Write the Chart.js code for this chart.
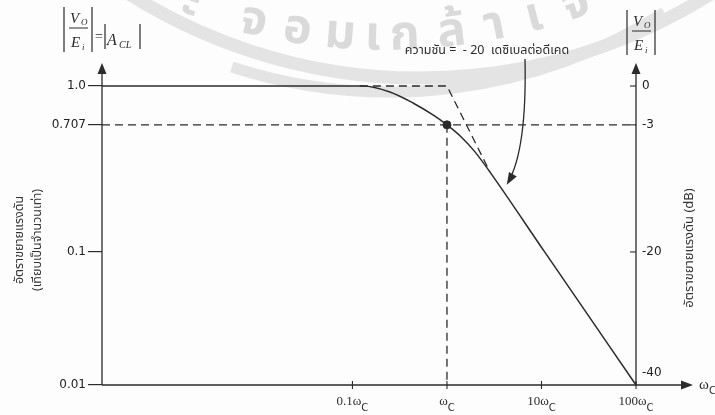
<!DOCTYPE html>
<html>
<head>
<meta charset="utf-8">
<script src="https://cdn.jsdelivr.net/npm/chart.js@4.4.1/dist/chart.umd.min.js"></script>
<style>
  html, body { margin: 0; padding: 0; background: #fdfdfd; }
  #wrap { width: 715px; height: 415px; position: relative; }
</style>
</head>
<body>
<div id="wrap"><canvas id="bode"></canvas></div>
<script>
// ------ values ------
var freqTicks  = [0.1, 1, 10, 100];              // multiples of wc
var freqLabels = ['0.1ω', 'ω', '10ω', '100ω'];   // subscript C added when drawn
var dbTicks    = [0, -3, -20, -40];
var dbLabels   = ['0', '-3', '-20', ['-40', '']];
var gainLabels = ['1.0', '0.707', '0.1', '0.01'];

var freqMin = 0.000224;   // left edge of the frequency axis
var freqMax = 100;

// closed-loop response (w/wc, dB)
var respFreq = [0.000224, 0.129, 0.249, 0.437, 0.711, 1, 1.407, 1.979, 2.781, 10.8, 100];
var respDb   = [0, 0, -0.46, -1.31, -2.23, -3, -4.58, -6.61, -9.12, -20, -40];

// straight-line approximation (dashed)
var asymFreq = [0.12, 1, 2.85];
var asymDb   = [0, 0, -9.3];

// -3 dB corner
var cornerFreq = 1;
var cornerDb = -3;

var slopeNote = 'ความชัน =  - 20  เดซิเบลต่อดีเคด';
var leftTitle = ['อัตราขยายแรงดัน', '(เทียบเป็นจำนวนเท่า)'];
var rightTitle = 'อัตราขยายแรงดัน (dB)';

// the drawing does not space the dB ticks evenly, so the axis is piecewise
var dbAxisLayout = [[-40, 0], [-20, 0.445], [-3, 0.870], [0, 1]];

class AnchoredScale extends Chart.LinearScale {
    getPixelForValue(value) {
        if (value === null || isNaN(value)) return NaN;
        var a = dbAxisLayout;
        var i = 0;
        while (i < a.length - 2 && value > a[i + 1][0]) i++;
        var t = (value - a[i][0]) / (a[i + 1][0] - a[i][0]);
        return this.getPixelForDecimal(a[i][1] + t * (a[i + 1][1] - a[i][1]));
    }
    getValueForPixel(pixel) {
        var d = this.getDecimalForPixel(pixel);
        var a = dbAxisLayout;
        var i = 0;
        while (i < a.length - 2 && d > a[i + 1][1]) i++;
        var t = (d - a[i][1]) / (a[i + 1][1] - a[i][1]);
        return a[i][0] + t * (a[i + 1][0] - a[i][0]);
    }
}
AnchoredScale.id = 'anchored';
AnchoredScale.defaults = {};
Chart.register(AnchoredScale);

function pts(xs, ys) {
    return xs.map(function(x, i) { return { x: x, y: ys[i] }; });
}

var INK = '#2b2b2b';
var SANS = '"DejaVu Sans", Verdana, sans-serif';
var THAI = '"Noto Sans Thai", "Noto Sans", "DejaVu Sans", sans-serif';
var SERIF = '"Liberation Serif", "Times New Roman", serif';

function arrowHead(ctx, x, y, dx, dy, len, half) {
    var n = Math.sqrt(dx * dx + dy * dy);
    dx /= n; dy /= n;
    ctx.beginPath();
    ctx.moveTo(x, y);
    ctx.lineTo(x - dx * len - dy * half, y - dy * len + dx * half);
    ctx.lineTo(x - dx * len + dy * half, y - dy * len - dx * half);
    ctx.closePath();
    ctx.fill();
}

function absFraction(ctx, x, top) {
    ctx.lineWidth = 1.2;
    ctx.beginPath();
    ctx.moveTo(x, top); ctx.lineTo(x, top + 45);
    ctx.moveTo(x + 28, top); ctx.lineTo(x + 28, top + 45);
    ctx.moveTo(x + 5, top + 21); ctx.lineTo(x + 24, top + 21);
    ctx.stroke();
    ctx.textAlign = 'left';
    ctx.textBaseline = 'alphabetic';
    ctx.font = 'italic 15px ' + SERIF;
    ctx.fillText('V', x + 6, top + 16);
    ctx.fillText('E', x + 7, top + 40);
    ctx.font = 'italic 9px ' + SERIF;
    ctx.fillText('O', x + 17, top + 18);
    ctx.fillText('i', x + 18, top + 43);
}

var decorPlugin = {
    id: 'decor',
    beforeDraw: function(chart) {
        var ctx = chart.ctx;
        ctx.save();
        ctx.fillStyle = '#fdfdfd';
        ctx.fillRect(0, 0, chart.width, chart.height);

        // faint scanned watermark
        ctx.strokeStyle = '#e4e4e4';
        ctx.lineWidth = 13;
        ctx.beginPath();
        ctx.arc(420, -467, 545, Math.PI * 0.22, Math.PI * 0.80);
        ctx.stroke();
        ctx.lineWidth = 11;
        ctx.beginPath();
        ctx.arc(390, -420, 512, Math.PI * 0.32, Math.PI * 0.60);
        ctx.stroke();

        var glyphs = ['ะ', 'จ', 'อ', 'ม', 'เ', 'ก', 'ล้', 'า', 'เ', 'จ้'];
        var gx = [190, 253, 297, 340, 373, 405, 452, 495, 535, 577];
        ctx.fillStyle = '#dadada';
        ctx.font = 'bold 48px ' + THAI;
        ctx.textAlign = 'center';
        ctx.textBaseline = 'middle';
        glyphs.forEach(function(g, i) {
            var a = Math.asin((gx[i] - 385) / 588);
            var px = 385 + 588 * Math.sin(a);
            var py = -548 + 588 * Math.cos(a);
            ctx.save();
            ctx.translate(px, py);
            ctx.rotate(-a);
            ctx.fillText(g, 0, 0);
            ctx.restore();
        });
        ctx.restore();
    },
    afterDraw: function(chart) {
        var ctx = chart.ctx;
        var area = chart.chartArea;
        var xs = chart.scales.x, ys = chart.scales.y;
        var L = area.left, R = area.right, T = area.top, B = area.bottom;
        ctx.save();
        ctx.strokeStyle = INK;
        ctx.fillStyle = INK;
        ctx.lineWidth = 1.3;

        // axes with arrows
        ctx.beginPath();
        ctx.moveTo(L, B); ctx.lineTo(L, T - 18);
        ctx.moveTo(R, B); ctx.lineTo(R, T - 18);
        ctx.moveTo(L, B); ctx.lineTo(R + 48, B);
        ctx.stroke();
        arrowHead(ctx, L, T - 23, 0, -1, 11, 4.5);
        arrowHead(ctx, R, T - 23, 0, -1, 11, 4.5);
        arrowHead(ctx, R + 57, B, 1, 0, 12, 4.5);

        // frequency ticks and labels
        ctx.lineWidth = 1.1;
        ctx.textBaseline = 'alphabetic';
        ctx.textAlign = 'left';
        freqTicks.forEach(function(v, i) {
            var px = xs.getPixelForValue(v);
            ctx.beginPath();
            ctx.moveTo(px, B - 4); ctx.lineTo(px, B + 4);
            ctx.stroke();
            ctx.font = '13px ' + SERIF;
            var w1 = ctx.measureText(freqLabels[i]).width;
            ctx.font = '10px ' + SANS;
            var w2 = ctx.measureText('C').width;
            var x0 = px - (w1 + w2) / 2;
            ctx.font = '13px ' + SERIF;
            ctx.fillText(freqLabels[i], x0, B + 20);
            ctx.font = '10px ' + SANS;
            ctx.fillText('C', x0 + w1, B + 26);
        });
        ctx.font = '15px ' + SERIF;
        ctx.fillText('ω', R + 63, B + 4);
        ctx.font = '10px ' + SANS;
        ctx.fillText('C', R + 73, B + 9);

        // inner ticks on the dB axis
        dbTicks.forEach(function(v) {
            if (v === dbTicks[dbTicks.length - 1]) return;
            var py = ys.getPixelForValue(v);
            ctx.beginPath();
            ctx.moveTo(R - 6, py); ctx.lineTo(R, py);
            ctx.stroke();
        });

        // axis titles
        ctx.fillStyle = '#333';
        ctx.textAlign = 'center';
        ctx.textBaseline = 'middle';
        ctx.font = '12.5px ' + THAI;
        leftTitle.forEach(function(line, i) {
            ctx.save();
            ctx.translate(20 + i * 18, 240);
            ctx.rotate(-Math.PI / 2);
            ctx.fillText(line, 0, 0);
            ctx.restore();
        });
        ctx.font = '13px ' + THAI;
        ctx.save();
        ctx.translate(690, 248);
        ctx.rotate(-Math.PI / 2);
        ctx.fillText(rightTitle, 0, 0);
        ctx.restore();

        // magnitude formulas
        ctx.fillStyle = INK;
        absFraction(ctx, 64, 7);
        ctx.font = '14px ' + SERIF;
        ctx.textAlign = 'left';
        ctx.textBaseline = 'alphabetic';
        ctx.fillText('=', 95, 41);
        ctx.lineWidth = 1.2;
        ctx.beginPath();
        ctx.moveTo(105, 24); ctx.lineTo(105, 49);
        ctx.moveTo(140, 24); ctx.lineTo(140, 49);
        ctx.stroke();
        ctx.font = 'italic 16px ' + SERIF;
        ctx.fillText('A', 107, 45);
        ctx.font = 'italic 10px ' + SERIF;
        ctx.fillText('CL', 119, 48);
        absFraction(ctx, R - 9, 10);

        // slope note with curved arrow
        ctx.font = '12.5px ' + THAI;
        ctx.textAlign = 'center';
        ctx.textBaseline = 'middle';
        ctx.fillText(slopeNote, 487, 51);
        var tipX = xs.getPixelForValue(4.3), tipY = ys.getPixelForValue(-11);
        ctx.lineWidth = 1.3;
        ctx.beginPath();
        ctx.moveTo(525, 59);
        ctx.quadraticCurveTo(527, 150, tipX + 1, tipY - 2);
        ctx.stroke();
        arrowHead(ctx, tipX, tipY, tipX - 527, tipY - 150, 12, 4.5);
        ctx.restore();
    }
};

var dashed = { borderColor: INK, borderWidth: 1.3, borderDash: [8, 5], pointRadius: 0, showLine: true, clip: false };

new Chart(document.getElementById('bode'), {
    type: 'scatter',
    data: {
        datasets: [
            Object.assign({ data: pts([freqMin, freqMax], [cornerDb, cornerDb]) }, dashed),
            Object.assign({ data: pts([cornerFreq, cornerFreq], [cornerDb, dbTicks[3]]) }, dashed),
            Object.assign({ data: pts(asymFreq, asymDb) }, dashed),
            {
                data: pts(respFreq, respDb),
                showLine: true,
                borderColor: INK,
                borderWidth: 1.5,
                pointRadius: 0,
                cubicInterpolationMode: 'monotone',
                clip: false
            },
            {
                data: pts([cornerFreq], [cornerDb]),
                pointRadius: 4,
                pointBackgroundColor: INK,
                pointBorderColor: INK,
                showLine: false,
                clip: false
            }
        ]
    },
    options: {
        responsive: true,
        maintainAspectRatio: false,
        animation: false,
        devicePixelRatio: 1,
        events: [],
        layout: { padding: { top: 86, left: 0, right: 0, bottom: 0 } },
        plugins: { legend: { display: false }, tooltip: { enabled: false } },
        scales: {
            x: {
                type: 'logarithmic',
                min: freqMin,
                max: freqMax,
                bounds: 'data',
                afterBuildTicks: function(s) { s.ticks = freqTicks.map(function(v) { return { value: v }; }); },
                ticks: { display: false },
                grid: { display: false },
                border: { display: false },
                afterFit: function(s) { s.height = 30; }
            },
            y: {
                type: 'anchored',
                position: 'left',
                min: -40,
                max: 0,
                afterBuildTicks: function(s) { s.ticks = dbTicks.map(function(v) { return { value: v }; }); },
                ticks: {
                    autoSkip: false,
                    padding: 2,
                    color: '#222',
                    font: { family: SANS, size: 12 },
                    callback: function(v, i) { return gainLabels[i]; }
                },
                grid: { display: true, drawOnChartArea: false, drawTicks: true, tickLength: 14, color: INK, lineWidth: 1.2 },
                border: { display: false },
                afterFit: function(s) { s.width = 102; }
            },
            y2: {
                type: 'anchored',
                position: 'right',
                min: -40,
                max: 0,
                afterBuildTicks: function(s) { s.ticks = dbTicks.map(function(v) { return { value: v }; }); },
                ticks: {
                    autoSkip: false,
                    padding: 6,
                    color: '#222',
                    font: { family: SANS, size: 12, lineHeight: 2 },
                    callback: function(v, i) { return dbLabels[i]; }
                },
                grid: { display: false, drawTicks: false },
                border: { display: false },
                afterFit: function(s) { s.width = 79; }
            }
        }
    },
    plugins: [decorPlugin]
});
</script>
</body>
</html>
